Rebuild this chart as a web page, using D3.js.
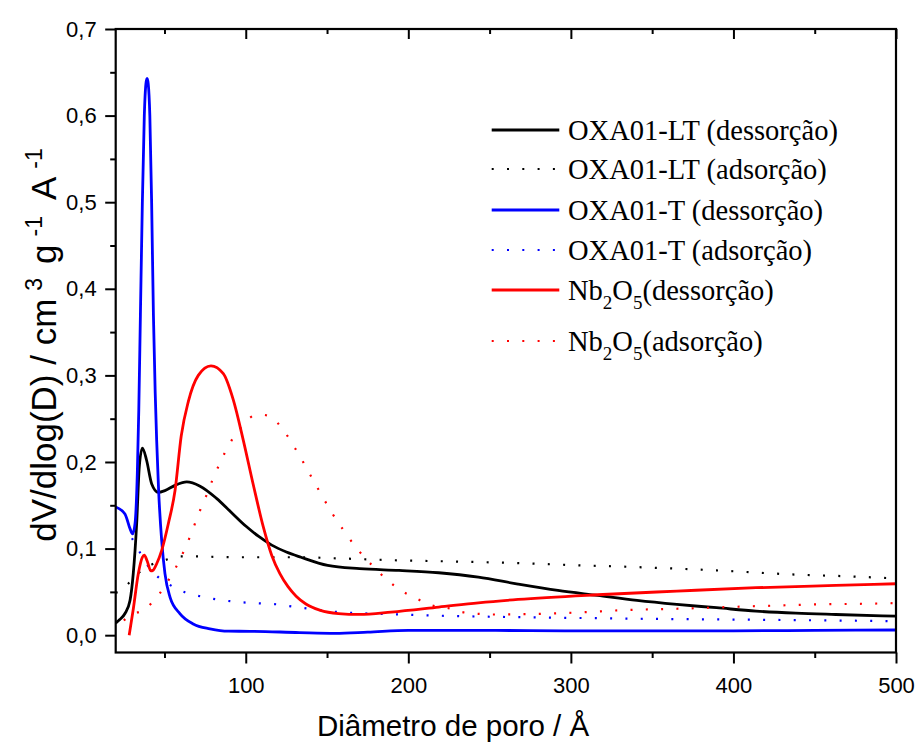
<!DOCTYPE html>
<html>
<head>
<meta charset="utf-8">
<script src="https://cdn.jsdelivr.net/npm/d3@7"></script>
<style>
  body { margin: 0; background: #fff; }
  svg { display: block; }
</style>
</head>
<body>
<svg id="chart" width="916" height="743"></svg>
<script>
/// data ///
// [pore diameter (A), dV/dlog(D)]
const oxaLtDes = [[20,0.014],[22.5,0.018],[25.7,0.025],[28.8,0.040],[30.8,0.071],[32.9,0.129],[34.5,0.194],[36.4,0.216],[39,0.202],[42.1,0.175],[46.2,0.165],[50.3,0.167],[56.5,0.173],[63.7,0.177],[71.9,0.172],[82,0.158],[91,0.142],[100,0.126],[108,0.114],[116,0.104],[125,0.096],[134,0.090],[150.4,0.0806],[170,0.0768],[194.3,0.0748],[218.7,0.0721],[243.1,0.067],[267.5,0.059],[292,0.0517],[316.4,0.0459],[340.7,0.0401],[365.2,0.0355],[389.6,0.0317],[413.9,0.0278],[438.4,0.0254],[462.9,0.0239],[500,0.022]]
const oxaLtAds = [[20,0.049],[23.7,0.052],[28,0.060],[32.5,0.069],[37,0.076],[41.5,0.081],[50.8,0.087],[60.2,0.091],[70,0.091],[80,0.0905],[100,0.090],[130,0.090],[160,0.0885],[194,0.0864],[230,0.085],[267.5,0.0832],[300,0.081],[340.7,0.0786],[389.6,0.0748],[438,0.070],[470,0.068],[500,0.0655]]
const oxaTDes = [[20,0.148],[25.7,0.140],[28.8,0.123],[30.4,0.117],[31.9,0.129],[33.3,0.187],[34.2,0.26],[35.2,0.37],[36.4,0.50],[37.6,0.60],[38.6,0.637],[39.3,0.643],[40,0.637],[41,0.60],[42.1,0.50],[43.2,0.37],[44.3,0.28],[45.2,0.225],[46.4,0.167],[48.3,0.109],[50.3,0.071],[53.4,0.044],[59.6,0.0247],[67.7,0.013],[78,0.0074],[89.3,0.0046],[102.6,0.0045],[133,0.003],[155,0.0022],[175,0.0035],[200,0.0055],[250,0.0055],[300,0.005],[350,0.005],[400,0.005],[450,0.0055],[500,0.006]]
const oxaTAds = [[30,0.112],[32.9,0.1025],[38,0.085],[44.6,0.0698],[53.8,0.0575],[63.2,0.049],[72.5,0.0447],[82.1,0.0413],[91.7,0.039],[101,0.0375],[110.4,0.0365],[119.8,0.0355],[129,0.033],[157.7,0.0266],[194,0.024],[230,0.022],[267.5,0.0208],[300,0.020],[340.7,0.019],[414,0.0178],[460,0.017],[500,0.0162]]
const nbDes = [[28.3,0.0],[30.8,0.030],[33.9,0.071],[36.4,0.090],[37.6,0.0925],[39.3,0.086],[41.6,0.0742],[43,0.075],[45.2,0.0825],[48.3,0.098],[52.4,0.129],[56.5,0.167],[60.3,0.230],[64.7,0.270],[70.8,0.300],[78.6,0.311],[86.2,0.302],[92.3,0.272],[98.5,0.225],[104.6,0.174],[110.8,0.125],[116,0.092],[121,0.071],[126,0.056],[131,0.045],[137,0.036],[145.5,0.029],[157,0.025],[170,0.024],[189.4,0.0266],[218.7,0.0324],[243.1,0.0374],[267.5,0.0413],[316.4,0.0467],[365.2,0.0509],[413.9,0.0548],[462.9,0.0575],[500,0.0594]]
const nbAds = [[25,0.017],[26.8,0.020],[32,0.025],[38.5,0.0305],[42,0.037],[46.2,0.046],[53,0.065],[58.5,0.0837],[63.2,0.1025],[67.4,0.122],[71.2,0.141],[75.5,0.160],[79.7,0.180],[84.2,0.199],[89.3,0.2186],[96.5,0.238],[105,0.2535],[110,0.2545],[114.5,0.253],[123.5,0.2358],[130.1,0.2166],[136.2,0.197],[141.8,0.178],[147.5,0.159],[153.6,0.1395],[160.6,0.120],[168,0.101],[177.2,0.0817],[186.3,0.065],[195.5,0.0517],[205.3,0.042],[214.6,0.0343],[223.6,0.0317],[233.3,0.0266],[243,0.0247],[252.9,0.0239],[282.2,0.0247],[309,0.0266],[328.6,0.0286],[365.2,0.0305],[413.9,0.0335],[450.6,0.0355],[479.7,0.0363],[500,0.037]]

// ticks
const xMajor = [100, 200, 300, 400, 500]
const xMinor = [50, 150, 250, 350, 450]
const yMajor = [0, 0.1, 0.2, 0.3, 0.4, 0.5, 0.6, 0.7]
const yMinor = [0.05, 0.15, 0.25, 0.35, 0.45, 0.55, 0.65]

// series list (drawing order + legend)
const series = [
  {name: ["OXA01-LT (dessorção)"], data: oxaLtDes, color: "#000", dotted: false},
  {name: ["OXA01-LT (adsorção)"], data: oxaLtAds, color: "#000", dotted: true},
  {name: ["OXA01-T (dessorção)"], data: oxaTDes, color: "#0000ff", dotted: false},
  {name: ["OXA01-T (adsorção)"], data: oxaTAds, color: "#0000ff", dotted: true},
  {name: ["Nb", "2", "O", "5", "(dessorção)"], data: nbDes, color: "#ff0000", dotted: false},
  {name: ["Nb", "2", "O", "5", "(adsorção)"], data: nbAds, color: "#ff0000", dotted: true},
]

/// dimensions ///
const plot = {left: 115.7, right: 896, top: 29, bottom: 652.5}
const dotDash = "2,13.3"

/// scales ///
const x = d3.scaleLinear().domain([20, 500]).range([plot.left, plot.right])
const y = d3.scaleLinear().domain([-0.02, 0.7]).range([plot.bottom, plot.top])

const svg = d3.select("#chart")

svg.append("defs").append("clipPath").attr("id", "clip")
  .append("rect")
  .attr("x", plot.left).attr("y", plot.top)
  .attr("width", plot.right - plot.left).attr("height", plot.bottom - plot.top)

/// curves ///
const line = d3.line()
  .x(d => x(d[0]))
  .y(d => y(d[1]))
  .curve(d3.curveMonotoneX)

const curves = svg.append("g").attr("clip-path", "url(#clip)")
curves.selectAll("path")
  .data(series)
  .join("path")
    .attr("d", d => line(d.data))
    .attr("fill", "none")
    .attr("stroke", d => d.color)
    .attr("stroke-width", d => d.dotted ? 2.2 : 2.8)
    .attr("stroke-dasharray", d => d.dotted ? dotDash : null)
    .attr("stroke-linejoin", "round")

/// axes ///
const tickFont = g => g
  .attr("font-family", "'Liberation Sans', Arial, sans-serif")
  .attr("font-size", 22)
  .call(g => g.select(".domain").remove())
  .call(g => g.selectAll("line").attr("stroke", "#000").attr("stroke-width", 2))

// bottom
svg.append("g")
  .attr("transform", `translate(0, ${plot.bottom})`)
  .call(d3.axisBottom(x).tickValues(xMajor).tickSize(11).tickFormat(d3.format("d")))
  .call(tickFont)
  .call(g => g.selectAll("text").attr("dy", null).attr("y", 40.5).attr("fill", "#000"))
svg.append("g")
  .attr("transform", `translate(0, ${plot.bottom})`)
  .call(d3.axisBottom(x).tickValues(xMinor).tickSize(5.5).tickFormat(""))
  .call(tickFont)

// top (inner ticks)
svg.append("g")
  .attr("transform", `translate(0, ${plot.top})`)
  .call(d3.axisBottom(x).tickValues(xMajor).tickSize(10).tickFormat(""))
  .call(tickFont)
svg.append("g")
  .attr("transform", `translate(0, ${plot.top})`)
  .call(d3.axisBottom(x).tickValues(xMinor).tickSize(5).tickFormat(""))
  .call(tickFont)

// left
svg.append("g")
  .attr("transform", `translate(${plot.left}, 0)`)
  .call(d3.axisLeft(y).tickValues(yMajor).tickSize(10.5)
    .tickFormat(d => d3.format(".1f")(d).replace(".", ",")))
  .call(tickFont)
  .call(g => g.selectAll("text").attr("x", -19).attr("fill", "#000"))
svg.append("g")
  .attr("transform", `translate(${plot.left}, 0)`)
  .call(d3.axisLeft(y).tickValues(yMinor).tickSize(5.5).tickFormat(""))
  .call(tickFont)

// frame
svg.append("rect")
  .attr("x", plot.left).attr("y", plot.top)
  .attr("width", plot.right - plot.left).attr("height", plot.bottom - plot.top)
  .attr("fill", "none").attr("stroke", "#000").attr("stroke-width", 2.2)

/// axis titles ///
svg.append("text")
  .attr("x", 453).attr("y", 736)
  .attr("text-anchor", "middle")
  .attr("font-family", "'Liberation Sans', Arial, sans-serif")
  .attr("font-size", 29.5)
  .text("Diâmetro de poro / Å")

const yTitle = svg.append("text")
  .attr("transform", `translate(56, 345) rotate(-90)`)
  .attr("text-anchor", "middle")
  .attr("font-family", "'Liberation Sans', Arial, sans-serif")
  .attr("font-size", 35)
yTitle.append("tspan").text("dV/dlog(D) / cm")
yTitle.append("tspan").attr("font-size", 23).attr("dx", 8).attr("dy", -14).text("3")
yTitle.append("tspan").attr("dx", 14).attr("dy", 14).text("g")
yTitle.append("tspan").attr("font-size", 23).attr("dx", 8).attr("dy", -14).text("-1")
yTitle.append("tspan").attr("dx", 16).attr("dy", 14).text("A")
yTitle.append("tspan").attr("font-size", 23).attr("dx", 8).attr("dy", -14).text("-1")

/// legend ///
const legendRows = [130, 169, 210, 250, 290, 341]
const legend = svg.append("g")
  .attr("font-family", "'Liberation Serif', 'Times New Roman', serif")
  .attr("font-size", 28.5)

const items = legend.selectAll("g")
  .data(series)
  .join("g")
    .attr("transform", (d, i) => `translate(0, ${legendRows[i]})`)

items.append("line")
  .attr("x1", 491.7).attr("x2", 559.3)
  .attr("stroke", d => d.color)
  .attr("stroke-width", d => d.dotted ? 2.2 : 2.8)
  .attr("stroke-dasharray", d => d.dotted ? dotDash : null)

items.append("text")
  .attr("x", 568).attr("y", 9.5)
  .each(function(d) {
    const t = d3.select(this)
    if (d.name.length === 1) {
      t.text(d.name[0])
    } else {
      // Nb2O5 with subscripts
      t.append("tspan").text(d.name[0])
      t.append("tspan").attr("font-size", 19).attr("dy", 9).text(d.name[1])
      t.append("tspan").attr("dy", -9).text(d.name[2])
      t.append("tspan").attr("font-size", 19).attr("dy", 9).text(d.name[3])
      t.append("tspan").attr("dy", -9).text(d.name[4])
    }
  })
</script>
</body>
</html>
